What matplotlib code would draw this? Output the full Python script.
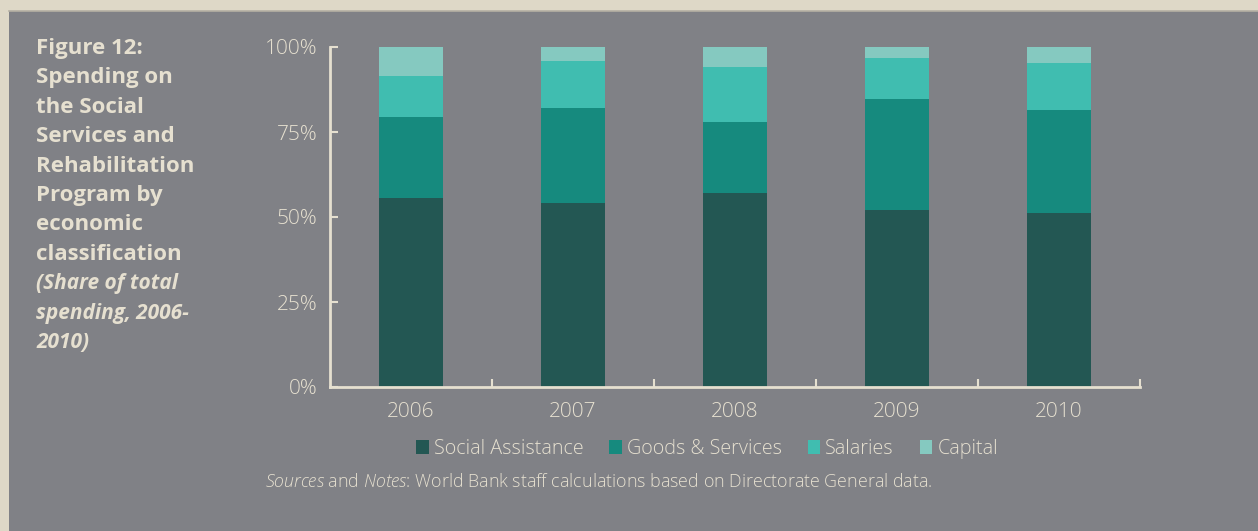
import matplotlib

matplotlib.use("Agg")

import matplotlib.pyplot as plt
import numpy as np
from matplotlib.patches import Patch, Rectangle
from matplotlib.ticker import FixedLocator, PercentFormatter

YEARS = ["2006", "2007", "2008", "2009", "2010"]
SERIES = ["Social Assistance", "Goods & Services", "Salaries", "Capital"]
SOCIAL_ASSISTANCE = [55.7, 54.2, 57.1, 52.1, 51.3]
GOODS_SERVICES = [23.6, 27.8, 20.9, 32.5, 30.2]
SALARIES = [12.3, 13.9, 16.2, 12.3, 13.7]
CAPITAL = [8.4, 4.1, 5.8, 3.1, 4.8]
Y_TICKS = [0, 25, 50, 75, 100]

TITLE_LINES = [
    "Figure 12:",
    "Spending on",
    "the Social",
    "Services and",
    "Rehabilitation",
    "Program by",
    "economic",
    "classification",
]
SUBTITLE_LINES = ["(Share of total", "spending, 2006-", "2010)"]

COLORS = ["#235753", "#168A7E", "#40BDB0", "#85C9C0"]
PANEL = "#808186"
FRAME = "#DED8C7"
TEXT = "#E6E0D0"
FONT = "Open Sans"

plt.rcParams["mathtext.fontset"] = "custom"
plt.rcParams["mathtext.rm"] = "Open Sans:light"
plt.rcParams["mathtext.it"] = "Open Sans:italic:light"

fig = plt.figure(figsize=(12.58, 5.31), dpi=100)
fig.patch.set_facecolor(FRAME)
fig.patches.append(
    Rectangle((9 / 1258, 0), 1, 1 - 11 / 531, transform=fig.transFigure,
              facecolor=PANEL, edgecolor="none", zorder=-5)
)
fig.add_artist(plt.Line2D([9 / 1258, 1], [1 - 11 / 531] * 2, color="#B5B0A4",
                          lw=1.2, transform=fig.transFigure, zorder=-4))

ax = fig.add_axes([330 / 1258, 144 / 531, 810 / 1258, 340 / 531])
ax.set_facecolor("none")

x = np.arange(len(YEARS))
bottom = np.zeros(len(YEARS))
for values, color in zip([SOCIAL_ASSISTANCE, GOODS_SERVICES, SALARIES, CAPITAL], COLORS):
    ax.bar(x, values, width=0.4, bottom=bottom, color=color, edgecolor="none", zorder=2)
    bottom += np.array(values)

ax.set_xlim(-0.5, len(YEARS) - 0.5)
ax.set_ylim(0, 100)
for side in ["top", "right"]:
    ax.spines[side].set_visible(False)
for side in ["left", "bottom"]:
    ax.spines[side].set_color(TEXT)
    ax.spines[side].set_linewidth(2)
    ax.spines[side].set_zorder(3)

ax.set_yticks(Y_TICKS)
ax.yaxis.set_major_formatter(PercentFormatter(decimals=0))
ax.tick_params(axis="y", direction="in", length=6, width=1.5, color=TEXT,
               labelcolor=TEXT, labelsize=15, pad=9)
ax.set_xticks(x)
ax.set_xticklabels(YEARS)
ax.tick_params(axis="x", which="major", length=0, labelcolor=TEXT, labelsize=15, pad=11)
ax.xaxis.set_minor_locator(FixedLocator(x + 0.5))
ax.tick_params(axis="x", which="minor", direction="in", length=6, width=1.5, color=TEXT)
for label in ax.get_xticklabels() + ax.get_yticklabels():
    label.set_fontfamily(FONT)
    label.set_fontweight("light")

handles = [Patch(facecolor=c, edgecolor="none") for c in COLORS]
fig.legend(handles, SERIES, loc="center", bbox_to_anchor=(707 / 1258, 1 - 449 / 531),
           ncol=4, frameon=False, handlelength=0.65, handleheight=0.65,
           handletextpad=0.25, columnspacing=1.3,
           prop={"family": FONT, "size": 14.2, "weight": "light"}, labelcolor=TEXT)

fig.text(265 / 1258, 1 - 482 / 531,
         r"$\it{Sources}$ and $\it{Notes}$: World Bank staff calculations based on Directorate General data.",
         color=TEXT, fontsize=12.9, family=FONT, fontweight="light", va="center")

line_step = 29.5 / 531
y0 = 1 - 48 / 531
for i, line in enumerate(TITLE_LINES):
    fig.text(36 / 1258, y0 - i * line_step, line, color=TEXT, fontsize=16,
             family=FONT, fontweight="bold", va="center")
for j, line in enumerate(SUBTITLE_LINES):
    fig.text(36 / 1258, y0 - (len(TITLE_LINES) + j) * line_step, line, color=TEXT,
             fontsize=15, family=FONT, fontweight="bold", style="italic", va="center")

fig.savefig("out.png", dpi=100, facecolor=fig.get_facecolor())
